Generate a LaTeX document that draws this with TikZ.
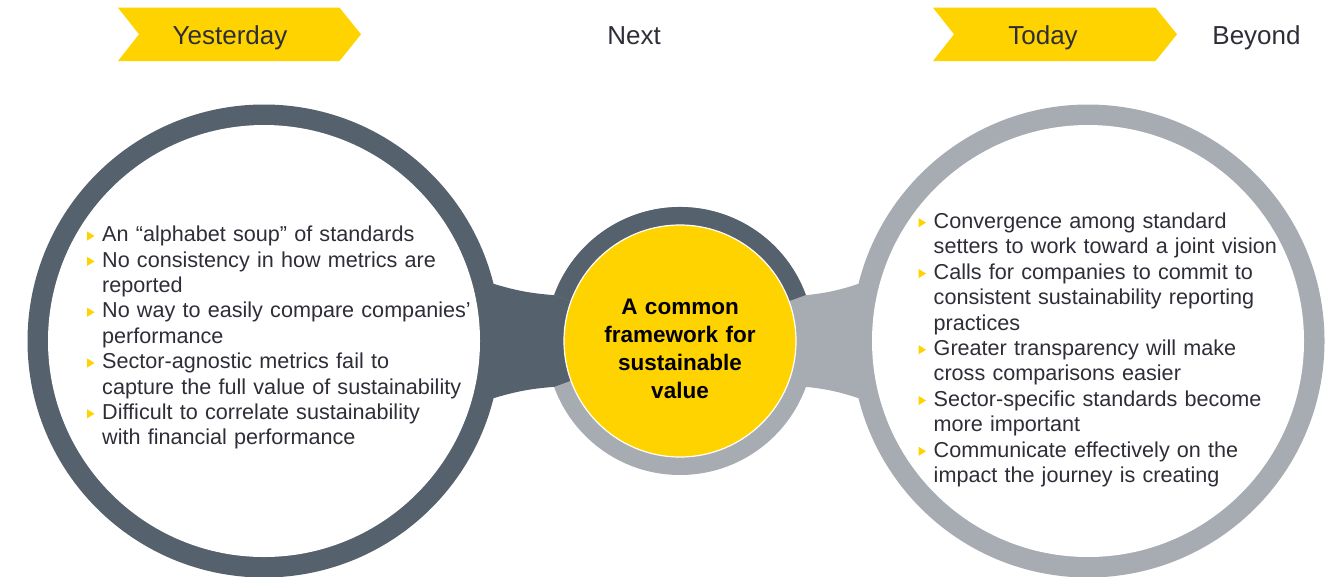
\documentclass[tikz,border=0pt]{standalone}
\usepackage{fontspec}
\setmainfont{Liberation Sans}
\definecolor{eydark}{HTML}{55616C}
\definecolor{eylight}{HTML}{A7ACB2}
\definecolor{eyyellow}{HTML}{FFD300}
\definecolor{eytext}{HTML}{2E2E38}
\newcommand{\ybullet}[1]{\fill[eyyellow] ([shift={(-15pt,-7.6pt)}]#1.north west) -- ([shift={(-15pt,-16.8pt)}]#1.north west) -- ([shift={(-7.5pt,-12.2pt)}]#1.north west) -- cycle;}
\begin{document}
\begin{tikzpicture}[x=1pt,y=-1pt,
  ring/.style={circle, inner sep=0pt, outer sep=0pt, minimum size=#1},
  toplabel/.style={anchor=base, inner sep=0pt, text=eytext, font=\fontsize{26}{30}\selectfont},
  item/.style={anchor=north west, inner sep=0pt, text width=420pt, align=left, text=eytext, font=\fontsize{21.6}{25.4}\selectfont},
  midtext/.style={anchor=north, inner sep=0pt, text width=230pt, align=center, text=black, font=\bfseries\fontsize{22.5}{28}\selectfont},
  chev/.style={fill=eyyellow}]
\useasboundingbox (0,0) rectangle (1337,576);
\clip (0,0) rectangle (1337,576);
% chevrons
\fill[chev] (118,7.7) -- (339.5,7.7) -- (361,34.3) -- (339.5,61) -- (118,61) -- (139,34.3) -- cycle;
\fill[chev] (933,7.7) -- (1155.5,7.7) -- (1177,34.3) -- (1155.5,61) -- (933,61) -- (954,34.3) -- cycle;
\node[toplabel] (yest) at (230,44) {Yesterday};
\node[toplabel] (next) at (634,44) {Next};
\node[toplabel] (today) at (1043,44) {Today};
\node[toplabel] (beyond) at (1256.5,44) {Beyond};
% middle ring
\node[ring=268pt, fill=eylight] (M) at (680,341) {};
\fill[eydark] (M.center) -- (M.20) arc[start angle=20, end angle=160, radius=134pt] -- cycle;
% outer disks
\node[ring=473pt, fill=eydark] (L) at (264,341) {};
\node[ring=473pt, fill=eylight] (R) at (1088,341) {};
% connectors
\fill[eydark] (L.center) -- (L.14) to[bend right=6] (M.160) -- (M.center) -- (M.200) to[bend right=6] (L.-14) -- cycle;
\fill[eylight] (R.center) -- (R.166) to[bend left=6] (M.20) -- (M.center) -- (M.-20) to[bend left=6] (R.194) -- cycle;
% inner disks
\node[ring=432pt, fill=white] (Li) at (L) {};
\node[ring=432pt, fill=white] (Ri) at (R) {};
\node[ring=232pt, fill=eyyellow, draw=white, line width=1.2pt] (Y) at (M) {};
\node[midtext] (mt) at (680,294.5) {\strut A common\\framework for\\sustainable\\value};
% left list
\node[item] (l1) at (102,223.8) {\strut An “alphabet soup” of standards};
\node[item] (l2) at (102,249.2) {\strut No consistency in how metrics are\\reported};
\node[item] (l3) at (102,300.0) {\strut No way to easily compare companies’\\performance};
\node[item] (l4) at (102,350.8) {\strut Sector-agnostic metrics fail to\\capture the full value of sustainability};
\node[item] (l5) at (102,401.6) {\strut Difficult to correlate sustainability\\with financial performance};
\ybullet{l1}\ybullet{l2}\ybullet{l3}\ybullet{l4}\ybullet{l5}
% right list
\node[item] (r1) at (933.5,210.5) {\strut Convergence among standard\\setters to work toward a joint vision};
\node[item] (r2) at (933.5,261.3) {\strut Calls for companies to commit to\\consistent sustainability reporting\\practices};
\node[item] (r3) at (933.5,337.5) {\strut Greater transparency will make\\cross comparisons easier};
\node[item] (r4) at (933.5,388.3) {\strut Sector-specific standards become\\more important};
\node[item] (r5) at (933.5,439.1) {\strut Communicate effectively on the\\impact the journey is creating};
\ybullet{r1}\ybullet{r2}\ybullet{r3}\ybullet{r4}\ybullet{r5}
\end{tikzpicture}
\end{document}
